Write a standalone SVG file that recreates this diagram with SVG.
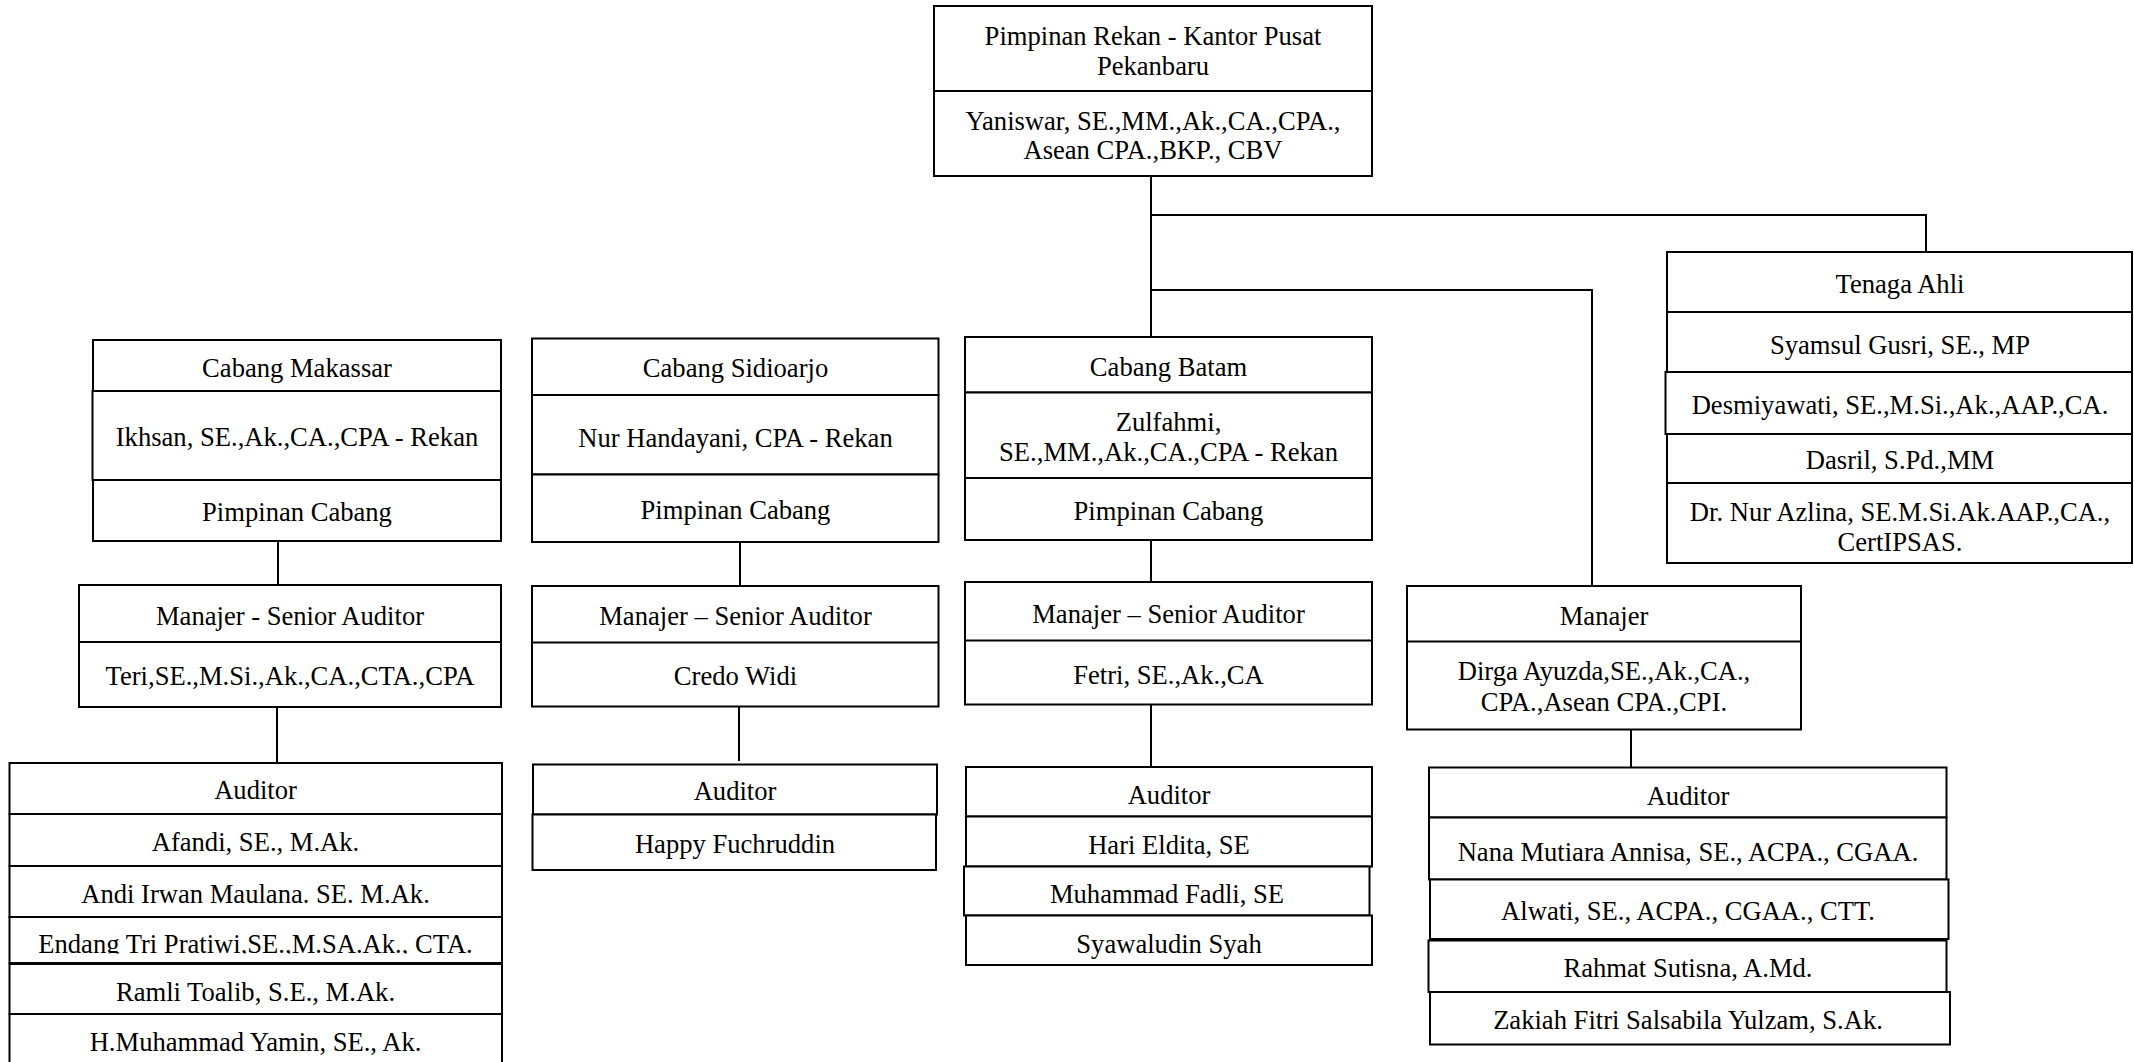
<svg xmlns="http://www.w3.org/2000/svg" width="2134" height="1062" viewBox="0 0 2134 1062">
<style>
.b{fill:#fff;stroke:#000;stroke-width:2}
.d{stroke:#000;stroke-width:2}
.c{fill:none;stroke:#000;stroke-width:2}
text{font-family:"Liberation Serif","Times New Roman",serif;font-size:26.6px;text-anchor:middle;fill:#000}
</style>
<defs>
<clipPath id="clipEndang"><rect x="9" y="917" width="493" height="36.5"/></clipPath>
</defs>
<rect width="2134" height="1062" fill="#fff"/>
<g id="connectors">
<path class="c" d="M1151,176 V337"/>
<path class="c" d="M1151,215 H1926 V252"/>
<path class="c" d="M1151,290 H1592 V586"/>
<path class="c" d="M278,541 V585"/>
<path class="c" d="M277,707 V763"/>
<path class="c" d="M740,542 V586"/>
<path class="c" d="M739,702 V761"/>
<path class="c" d="M1151,540 V582"/>
<path class="c" d="M1151,704 V767"/>
<path class="c" d="M1631,728 V767"/>
</g>
<g id="node-pusat">
<rect class="b" x="934" y="6" width="438" height="170"/>
<line class="d" x1="934" y1="91" x2="1372" y2="91"/>
<text x="1153" y="44.5">Pimpinan Rekan - Kantor Pusat</text>
<text x="1153" y="74.5">Pekanbaru</text>
<text x="1153" y="129.5">Yaniswar, SE.,MM.,Ak.,CA.,CPA.,</text>
<text x="1153" y="158.5">Asean CPA.,BKP., CBV</text>
</g>
<g id="node-tenaga-ahli">
<rect class="b" x="1667" y="252" width="465" height="60"/>
<rect class="b" x="1667" y="312" width="465" height="60"/>
<rect class="b" x="1665.5" y="372" width="466.5" height="62"/>
<rect class="b" x="1667" y="434" width="465" height="49"/>
<rect class="b" x="1667" y="483" width="465" height="80"/>
<text x="1900" y="292.5">Tenaga Ahli</text>
<text x="1900" y="353.5">Syamsul Gusri, SE., MP</text>
<text x="1900" y="413.5">Desmiyawati, SE.,M.Si.,Ak.,AAP.,CA.</text>
<text x="1900" y="469">Dasril, S.Pd.,MM</text>
<text x="1900" y="520.5">Dr. Nur Azlina, SE.M.Si.Ak.AAP.,CA.,</text>
<text x="1900" y="550.5">CertIPSAS.</text>
</g>
<g id="node-makassar">
<rect class="b" x="93" y="340" width="408" height="51"/>
<rect class="b" x="92.5" y="391" width="408.5" height="89"/>
<rect class="b" x="93" y="480" width="408" height="61"/>
<text x="297" y="376.5">Cabang Makassar</text>
<text x="297" y="445.5">Ikhsan, SE.,Ak.,CA.,CPA - Rekan</text>
<text x="297" y="520.5">Pimpinan Cabang</text>
</g>
<g id="node-makassar-manajer">
<rect class="b" x="79" y="585" width="422" height="122"/>
<line class="d" x1="79" y1="642" x2="501" y2="642"/>
<text x="290" y="624.5">Manajer - Senior Auditor</text>
<text x="290" y="684.5">Teri,SE.,M.Si.,Ak.,CA.,CTA.,CPA</text>
</g>
<g id="node-makassar-auditor">
<rect class="b" x="9.5" y="763" width="492.5" height="51"/>
<rect class="b" x="9.5" y="814" width="492.5" height="52"/>
<rect class="b" x="9.5" y="866" width="492.5" height="51"/>
<rect class="b" x="9.5" y="917" width="492.5" height="46"/>
<rect class="b" x="9.5" y="964" width="492.5" height="50"/>
<rect class="b" x="9.5" y="1014" width="492.5" height="52"/>
<text x="255.5" y="798.5">Auditor</text>
<text x="255.5" y="850.5">Afandi, SE., M.Ak.</text>
<text x="255.5" y="902.5">Andi Irwan Maulana. SE. M.Ak.</text>
<text x="255.5" y="952.5" clip-path="url(#clipEndang)">Endang Tri Pratiwi,SE.,M.SA.Ak., CTA.</text>
<text x="255.5" y="1000.5">Ramli Toalib, S.E., M.Ak.</text>
<text x="255.5" y="1050.5">H.Muhammad Yamin, SE., Ak.</text>
</g>
<g id="node-sidoarjo">
<rect class="b" x="532" y="338.5" width="406.5" height="56.5"/>
<rect class="b" x="532" y="395" width="406.5" height="79.5"/>
<rect class="b" x="532" y="474.5" width="406.5" height="67.5"/>
<text x="735.5" y="376.5">Cabang Sidioarjo</text>
<text x="735.5" y="446.5">Nur Handayani, CPA - Rekan</text>
<text x="735.5" y="518.5">Pimpinan Cabang</text>
</g>
<g id="node-sidoarjo-manajer">
<rect class="b" x="532" y="586" width="406.5" height="120.5"/>
<line class="d" x1="532" y1="642.5" x2="938.5" y2="642.5"/>
<text x="735.5" y="625">Manajer – Senior Auditor</text>
<text x="735.5" y="685">Credo Widi</text>
</g>
<g id="node-sidoarjo-auditor">
<rect class="b" x="533" y="764.5" width="404" height="50"/>
<rect class="b" x="532.5" y="814.5" width="403.5" height="55.5"/>
<text x="735" y="800">Auditor</text>
<text x="735" y="852.5">Happy Fuchruddin</text>
</g>
<g id="node-batam">
<rect class="b" x="965" y="337" width="407" height="55.5"/>
<rect class="b" x="965" y="392.5" width="407" height="85.5"/>
<rect class="b" x="965" y="478" width="407" height="62"/>
<text x="1168.5" y="375.5">Cabang Batam</text>
<text x="1168.5" y="430.5">Zulfahmi,</text>
<text x="1168.5" y="460.5">SE.,MM.,Ak.,CA.,CPA - Rekan</text>
<text x="1168.5" y="519.5">Pimpinan Cabang</text>
</g>
<g id="node-batam-manajer">
<rect class="b" x="965" y="582" width="407" height="122.5"/>
<line class="d" x1="965" y1="640.5" x2="1372" y2="640.5"/>
<text x="1168.5" y="622.5">Manajer – Senior Auditor</text>
<text x="1168.5" y="683.5">Fetri, SE.,Ak.,CA</text>
</g>
<g id="node-batam-auditor">
<rect class="b" x="966" y="767" width="406" height="49.5"/>
<rect class="b" x="966" y="816.5" width="406" height="50"/>
<rect class="b" x="964" y="866.5" width="405.5" height="49"/>
<rect class="b" x="966" y="915.5" width="406" height="49.5"/>
<text x="1169" y="803.5">Auditor</text>
<text x="1169" y="853.5">Hari Eldita, SE</text>
<text x="1167" y="903">Muhammad Fadli, SE</text>
<text x="1169" y="952.5">Syawaludin Syah</text>
</g>
<g id="node-manajer">
<rect class="b" x="1407" y="586" width="394" height="143.5"/>
<line class="d" x1="1407" y1="641.5" x2="1801" y2="641.5"/>
<text x="1604" y="624.5">Manajer</text>
<text x="1604" y="679.5">Dirga Ayuzda,SE.,Ak.,CA.,</text>
<text x="1604" y="710.5">CPA.,Asean CPA.,CPI.</text>
</g>
<g id="node-auditor-kanan">
<rect class="b" x="1429" y="767.5" width="517.5" height="50"/>
<rect class="b" x="1429" y="817.5" width="517.5" height="62"/>
<rect class="b" x="1430" y="879.5" width="518.5" height="59.5"/>
<rect class="b" x="1428.5" y="940.5" width="518" height="51.5"/>
<rect class="b" x="1430" y="992" width="520" height="52.5"/>
<text x="1688" y="804.5">Auditor</text>
<text x="1688" y="860.5">Nana Mutiara Annisa, SE., ACPA., CGAA.</text>
<text x="1688" y="919.5">Alwati, SE., ACPA., CGAA., CTT.</text>
<text x="1688" y="976.5">Rahmat Sutisna, A.Md.</text>
<text x="1688" y="1029">Zakiah Fitri Salsabila Yulzam, S.Ak.</text>
</g>
</svg>
